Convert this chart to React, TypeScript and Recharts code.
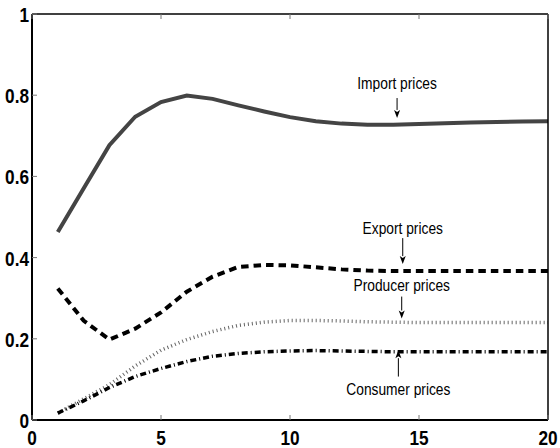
import { LineChart, Line, XAxis, YAxis, ReferenceLine, ReferenceDot } from 'recharts';

// Impulse responses by quarter
const periods = [1, 2, 3, 4, 5, 6, 7, 8, 9, 10, 11, 12, 13, 14, 15, 16, 17, 18, 19, 20];
const importPrices = [0.463, 0.57, 0.677, 0.747, 0.783, 0.799, 0.791, 0.775, 0.76, 0.746, 0.736, 0.73, 0.727, 0.727, 0.729, 0.731, 0.733, 0.734, 0.735, 0.736];
const exportPrices = [0.324, 0.245, 0.198, 0.225, 0.265, 0.316, 0.353, 0.377, 0.382, 0.381, 0.376, 0.371, 0.368, 0.367, 0.367, 0.367, 0.367, 0.367, 0.367, 0.367];
const producerPrices = [0.017, 0.052, 0.087, 0.133, 0.172, 0.198, 0.218, 0.233, 0.241, 0.245, 0.245, 0.244, 0.242, 0.241, 0.24, 0.24, 0.24, 0.24, 0.24, 0.24];
const consumerPrices = [0.017, 0.047, 0.08, 0.107, 0.127, 0.144, 0.157, 0.164, 0.168, 0.17, 0.171, 0.17, 0.169, 0.168, 0.168, 0.168, 0.168, 0.168, 0.168, 0.168];

const xTicks = [0, 5, 10, 15, 20];
const yTicks = [0, 0.2, 0.4, 0.6, 0.8, 1];

// Arrow labels: text anchor and arrow from tail to tip, in data units
const labelNames = ['Import prices', 'Export prices', 'Producer prices', 'Consumer prices'];
const labelX = [14.15, 14.37, 14.33, 14.2];
const labelTextY = [0.831, 0.472, 0.3325, 0.0756];
const arrowTail = [0.793, 0.448, 0.304, 0.107];
const arrowTip = [0.744, 0.384, 0.25, 0.172];

const data = periods.map((t, i) => ({
  t,
  imp: importPrices[i],
  exp: exportPrices[i],
  prod: producerPrices[i],
  cons: consumerPrices[i],
}));

const FONT = '"Liberation Sans", Arial, sans-serif';
const NARROW = 0.82;
const TICK_LEN = 5;
const TICK_COLOR = '#777';

// condensed text: regular sans squeezed horizontally
const NarrowText = ({ x, y, anchor, size, bold, children }: any) => (
  <text
    transform={`translate(${x},${y}) scale(${NARROW},1)`}
    textAnchor={anchor}
    fontFamily={FONT}
    fontWeight={bold ? 'bold' : 'normal'}
    fontSize={size}
    fill="#000"
  >
    {children}
  </text>
);

const BottomTick = (props: any) => {
  const { x, y, payload } = props;
  return (
    <g>
      <line x1={x} y1={y} x2={x} y2={y - TICK_LEN} stroke={TICK_COLOR} strokeWidth={1} />
      <NarrowText x={x} y={y + 25} anchor="middle" size={21} bold>
        {String(payload.value)}
      </NarrowText>
    </g>
  );
};

const TopTick = (props: any) => {
  const { x, y } = props;
  return <line x1={x} y1={y} x2={x} y2={y + TICK_LEN} stroke={TICK_COLOR} strokeWidth={1} />;
};

const LeftTick = (props: any) => {
  const { x, y, payload } = props;
  return (
    <g>
      <line x1={x} y1={y} x2={x + TICK_LEN} y2={y} stroke={TICK_COLOR} strokeWidth={1} />
      <NarrowText x={x - 3} y={y + 8} anchor="end" size={21} bold>
        {String(payload.value)}
      </NarrowText>
    </g>
  );
};

const RightTick = (props: any) => {
  const { x, y } = props;
  return <line x1={x} y1={y} x2={x - TICK_LEN} y2={y} stroke={TICK_COLOR} strokeWidth={1} />;
};

const Arrow = (props: any) => {
  const { x1, y1, x2, y2 } = props;
  const dir = y2 > y1 ? 1 : -1;
  const head = 8;
  return (
    <g>
      <line x1={x1} y1={y1} x2={x2} y2={y2 - dir * head} stroke="#000" strokeWidth={1} />
      <polygon
        points={`${x2},${y2} ${x2 - 3},${y2 - dir * head} ${x2},${y2 - dir * (head - 2)} ${x2 + 3},${y2 - dir * head}`}
        fill="#000"
      />
    </g>
  );
};

const labelShape = (text: string) => (props: any) => (
  <NarrowText x={props.cx} y={props.cy + 6} anchor="middle" size={16.8}>
    {text}
  </NarrowText>
);

export default function App() {
  return (
    <div style={{ width: 560, height: 448 }}>
      <style>{'body{margin:0}'}</style>
      <LineChart width={560} height={448} data={data} margin={{ top: 13, right: 11, bottom: 27, left: 31 }}>
        <XAxis
          dataKey="t"
          type="number"
          domain={[0, 20]}
          ticks={xTicks}
          height={1}
          tickSize={0}
          tickMargin={0}
          tickLine={false}
          tick={BottomTick}
          axisLine={{ stroke: '#000', strokeWidth: 2 }}
          interval={0}
        />
        <XAxis
          xAxisId="top"
          orientation="top"
          dataKey="t"
          type="number"
          domain={[0, 20]}
          ticks={xTicks}
          height={1}
          tickSize={0}
          tickMargin={0}
          tickLine={false}
          tick={TopTick}
          axisLine={{ stroke: '#000', strokeWidth: 1.5 }}
          interval={0}
        />
        <YAxis
          type="number"
          domain={[0, 1]}
          ticks={yTicks}
          width={1}
          tickSize={0}
          tickMargin={0}
          tickLine={false}
          tick={LeftTick}
          axisLine={{ stroke: '#000', strokeWidth: 2 }}
          interval={0}
        />
        <YAxis
          yAxisId="right"
          orientation="right"
          type="number"
          domain={[0, 1]}
          ticks={yTicks}
          width={1}
          tickSize={0}
          tickMargin={0}
          tickLine={false}
          tick={RightTick}
          axisLine={{ stroke: '#000', strokeWidth: 1.5 }}
          interval={0}
        />
        <Line dataKey="imp" stroke="#444" strokeWidth={4} dot={false} type="linear" isAnimationActive={false} />
        <Line dataKey="exp" stroke="#000" strokeWidth={4} strokeDasharray="7.5 5" dot={false} type="linear" isAnimationActive={false} />
        <Line dataKey="prod" stroke="#666" strokeWidth={3.5} strokeDasharray="1 3" dot={false} type="linear" isAnimationActive={false} />
        <Line dataKey="cons" stroke="#000" strokeWidth={3.5} strokeDasharray="6 3 1 3" dot={false} type="linear" isAnimationActive={false} />
        {labelNames.map((name, i) => (
          <ReferenceLine
            key={`arrow-${name}`}
            segment={[
              { x: labelX[i], y: arrowTail[i] },
              { x: labelX[i], y: arrowTip[i] },
            ]}
            shape={Arrow}
          />
        ))}
        {labelNames.map((name, i) => (
          <ReferenceDot key={`label-${name}`} x={labelX[i]} y={labelTextY[i]} r={0} shape={labelShape(name)} />
        ))}
      </LineChart>
    </div>
  );
}
